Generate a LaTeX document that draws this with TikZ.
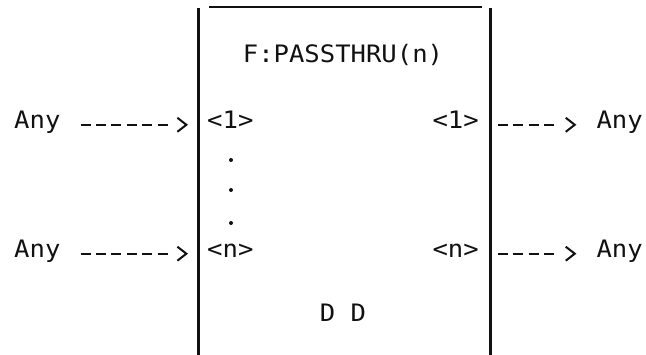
\documentclass[tikz,border=0pt]{standalone}
\usepackage{fontspec}
\setmonofont[FakeStretch=1.066]{DejaVu Sans Mono}
\usepackage{tikz}
\usetikzlibrary{positioning,arrows.meta}
\usepackage{xcolor}
\definecolor{ink}{HTML}{111111}
\newcommand{\mono}{\ttfamily\fontsize{24}{28}\selectfont}

\begin{document}
\begin{tikzpicture}[x=1pt, y=1pt, every node/.style={inner sep=0pt, text=ink, font=\mono},
  wall/.style={draw=ink, line width=3pt},
  inflow/.style={draw=ink, line width=2pt, -{Straight Barb[length=9pt,width=14pt]},
    dash pattern=on 10pt off 5.4pt on 10pt off 5.4pt on 10pt off 5.4pt on 10pt off 5.4pt on 10pt off 5.4pt on 10pt off 60pt},
  outflow/.style={draw=ink, line width=2pt, -{Straight Barb[length=9pt,width=14pt]},
    dash pattern=on 10pt off 5.4pt on 10pt off 5.4pt on 10pt off 5.4pt on 10pt off 60pt}]
\useasboundingbox (0,0) rectangle (646,355);
% 1. the block: two walls and a top rule that stops short of both
\draw[wall] (198,347) -- (198,0);
\draw[wall] (490,347) -- (490,0);
\draw[draw=ink, line width=1.6pt] (209,348) -- (482,348);
% 2. block name and the D D tag
\node[anchor=base] (title) at (343,292.3) {F:PASSTHRU(n)};
\node[anchor=base] (tag) at (343,33.3) {D D};
% 3. ports 1 and n on both sides
\node[anchor=base west] (in1) at (207,226.7) {<1>};
\node[anchor=base west] (inn) at (207,97.5) {<n>};
\node[anchor=base east] (out1) at (479,226.7) {<1>};
\node[anchor=base east] (outn) at (479,97.5) {<n>};
% ports 2 .. n-1 left out
\foreach \y in {195,165,132} \fill[ink] (231,\y) circle (2pt);
% 4. the outside types
\node[anchor=base west] (src1) at (14,226.7) {Any};
\node[anchor=base west] (srcn) at (14,97.5) {Any};
\node[anchor=base east] (dst1) at (643,226.7) {Any};
\node[anchor=base east] (dstn) at (643,97.5) {Any};
% 5. typed flows, drawn at hyphen height
\draw[inflow] ([xshift=20pt,yshift=3.5pt]src1.base east) -- ([xshift=-19pt,yshift=3.5pt]in1.base west);
\draw[inflow] ([xshift=20pt,yshift=3.8pt]srcn.base east) -- ([xshift=-19pt,yshift=3.8pt]inn.base west);
\draw[outflow] ([xshift=19pt,yshift=3.5pt]out1.base east) -- ([xshift=-20pt,yshift=3.5pt]dst1.base west);
\draw[outflow] ([xshift=19pt,yshift=3.8pt]outn.base east) -- ([xshift=-20pt,yshift=3.8pt]dstn.base west);
\end{tikzpicture}
\end{document}
